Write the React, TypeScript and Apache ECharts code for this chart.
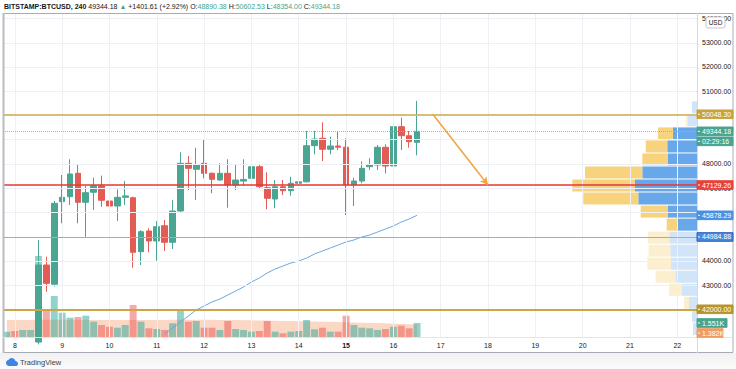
import React, { useEffect, useRef } from "react";
import * as echarts from "echarts";

const FONT = '"Liberation Sans Narrow", "Liberation Sans", Arial, sans-serif';
const UP = "#4ba593";
const DOWN = "#e35c54";

// time axis
const dayLabels = ["8", "9", "10", "11", "12", "13", "14", "15", "16", "17", "18", "19", "20", "21", "22"];
const slotHours = ["00:00", "04:00", "08:00", "12:00", "16:00", "20:00"];
const firstSlot = -1; // 7th 20:00
const lastSlot = 86;

// price ticks (grid) and the labels left visible beside the price tags
const priceTicks = [42000, 43000, 44000, 46000, 47000, 48000, 49000, 50000, 51000, 52000, 53000, 54000];
const priceLabels = [43000, 44000, 47000, 48000, 51000, 52000, 53000, 54000];

// 4h candles, starting at slot -1 (7th 20:00)
const opens = [40300, 40450, 40350, 40500,
  40650, 43828, 43032, 46441, 46647, 47613, 46416, 46829, 47101, 46469, 46263, 46622,
  46606, 44377, 45231, 44819, 45450, 44765, 46057, 48025, 47778, 48025, 47613, 47336,
  47613, 47130, 47290, 47406, 47885, 47018, 46552, 47060, 46895, 47200, 47260, 48752,
  49057, 48603, 48739, 48690, 47130, 47295, 47885, 47955, 48686, 47914, 49536, 49164, 48890.38];
const closes = [40450, 40350, 40500, 40650,
  43828, 43073, 46375, 46622, 47584, 46416, 46812, 47101, 46498, 46263, 46622, 46680,
  44352, 45203, 44819, 45409, 44765, 46057, 48025, 47819, 47955, 47613, 47365, 47613,
  47130, 47336, 47360, 47885, 47060, 46581, 47060, 46895, 47200, 47260, 48752, 49028,
  48603, 48739, 48690, 47130, 47295, 47819, 47955, 48686, 47914, 49536, 49164, 48917, 49344.18];
const lows = [40200, 40250, 40300, 40400,
  40550, 42726, 42933, 45549, 46304, 45549, 44996, 46098, 46234, 45863, 45644, 46304,
  43717, 43828, 44352, 44006, 44406, 44489, 45990, 46923, 46511, 47406, 46787, 47300,
  46193, 46923, 47100, 47300, 47000, 46127, 46168, 46717, 46690, 47060, 47240, 48397,
  48120, 48397, 48574, 45892, 46263, 47200, 47749, 47750, 47613, 47060, 48574, 48669, 48354.0];
const highs = [40520, 40500, 40600, 40700,
  44860, 44171, 46470, 47543, 48190, 47997, 47101, 47431, 47514, 46965, 46952, 47300,
  46650, 45270, 45343, 45644, 45685, 46511, 48479, 48327, 48669, 48987, 47650, 48025,
  48190, 47997, 48190, 48190, 47984, 47654, 47336, 47336, 47472, 47749, 49358, 49358,
  49717, 49123, 49329, 49057, 47431, 48100, 48232, 48780, 48810, 49600, 49907, 49358, 50602.53];
const volumes = [590, 665, 775, 775,
  8975, 2990, 4540, 2690, 2140, 2216, 2360, 1695, 1330, 1140, 1030, 1330,
  3545, 1695, 960, 886, 775, 1515, 2990, 1695, 1770, 1030, 1030, 775,
  1770, 886, 775, 590, 665, 1770, 590, 410, 590, 665, 1884, 850,
  1030, 590, 590, 2360, 1330, 1030, 960, 775, 886, 1140, 1255, 960, 1551];
const volumeMA = [1880, 1880, 1885, 1890, 1900, 1905, 1910, 1910, 1905, 1900,
  1895, 1890, 1885, 1880, 1875, 1870, 1870, 1870, 1875, 1880,
  1890, 1900, 1905, 1910, 1910, 1905, 1900, 1890, 1880, 1870,
  1860, 1845, 1830, 1815, 1800, 1785, 1770, 1755, 1740, 1720,
  1700, 1680, 1660, 1640, 1615, 1590, 1565, 1540, 1510, 1480,
  1450, 1415, 1382];
const priceMA: (number | string)[] = ["-", "-", "-", "-",
  "-", "-", "-", "-", "-", "-", "-", "-", "-", "-", "-", "-", "-", "-", "-", "-",
  40981, 41228, 41476, 41723, 41971, 42136, 42301, 42425, 42590, 42755, 42920, 43127,
  43292, 43498, 43663, 43787, 43911, 43993, 44117, 44282, 44406, 44530, 44654, 44777,
  44860, 44984, 45067, 45190, 45314, 45438, 45603, 45727, 45878.29];

// levels
const resistance = 50048.3;
const poc = 47129.26;
const support = 44984.88;
const baseLevel = 42000;
const lastPrice = 49344.18;
const maLast = 45878.29;
const lastVolume = 1551;
const lastVolumeMA = 1382;

// visible-range volume profile
const profileTop = [50602.5, 50064.8, 49527.1, 48989.4, 48451.7, 47914.0, 47376.3, 46838.6, 46300.9,
  45763.2, 45225.5, 44687.8, 44150.1, 43612.4, 43074.7, 42537.0, 41999.3, 41461.6];
const profileBottom = [50064.8, 49527.1, 48989.4, 48451.7, 47914.0, 47376.3, 46838.6, 46300.9, 45763.2,
  45225.5, 44687.8, 44150.1, 43612.4, 43074.7, 42537.0, 41999.3, 41461.6, 40923.9];
const profileUp = [500, 900, 2400, 2970, 2900, 5470, 6200, 5870, 2900, 1900, 2770, 2670, 2600, 2170, 1500, 800, 500, 400];
const profileDown = [0, 200, 1500, 2160, 2570, 5730, 6270, 5500, 2730, 1130, 2130, 2170, 2370, 1970, 1300, 500, 0, 0];
const profileValueArea = [0, 0, 1, 1, 1, 1, 1, 1, 1, 1, 0, 0, 0, 0, 0, 0, 0, 0];

const cloudPath = "M6 16 C2.7 16 0 13.3 0 10 C0 7.1 2.1 4.6 4.9 4.1 C6.1 1.7 8.6 0 11.5 0 C15.2 0 18.3 2.7 18.9 6.2 C21.8 6.6 24 9.1 24 12 C24 14.2 22.2 16 20 16 Z";
let registered = false;

export default function App() {
  const ref = useRef<HTMLDivElement>(null);
  useEffect(() => {
    if (!registered) {
      echarts.graphic.registerShape("tvlogo", echarts.graphic.extendPath(cloudPath, {}) as any);
      registered = true;
    }
    const chart = echarts.init(ref.current!, null, { renderer: "svg", width: 736, height: 369 });

    const categories: string[] = [];
    for (let s = firstSlot; s <= lastSlot; s++) {
      const d = Math.floor(s / 6);
      const h = ((s % 6) + 6) % 6;
      const day = d >= 0 ? dayLabels[d] : "7";
      categories.push(`${day} ${slotHours[h]}`);
    }
    const candleData = opens.map((o, i) => [o, closes[i], lows[i], highs[i]]);
    const volData = volumes.map((v, i) => ({
      value: v,
      itemStyle: { color: closes[i] >= opens[i] ? "rgba(38,166,154,0.5)" : "rgba(239,83,80,0.5)" },
    }));
    const profileData = profileTop.map((t, i) => [t, profileBottom[i], profileUp[i], profileDown[i], profileValueArea[i]]);

    const option: any = {
      animation: false,
      grid: { left: 3, right: 39, top: 13, bottom: 32, containLabel: false },
      xAxis: [
        {
          type: "category", data: categories, boundaryGap: true,
          axisLine: { show: false }, axisTick: { show: false }, splitLine: { show: false },
          axisLabel: {
            interval: (_i: number, v: string) => v.endsWith(" 00:00"),
            formatter: (v: string) => { const d = v.split(" ")[0]; return d === "15" ? `{b|${d}}` : d; },
            color: "#131722", fontSize: 7, margin: 5, fontFamily: FONT,
            rich: { b: { fontWeight: "bold", fontSize: 7, fontFamily: FONT, color: "#131722" } },
          },
        },
        { type: "value", position: "top", min: 0, max: 69400, inverse: true, show: false },
      ],
      yAxis: [
        {
          type: "value", position: "right", min: 40857, max: 54228,
          axisLine: { show: false }, axisTick: { show: false }, splitLine: { show: false },
          axisLabel: {
            customValues: priceLabels, formatter: (v: number) => v.toFixed(2),
            color: "#131722", fontSize: 7, margin: 5, fontFamily: FONT,
          },
        },
        { type: "value", min: 0, max: 35900, show: false },
      ],
      series: [
        {
          type: "line", name: "grid", data: [], z: 0, silent: true,
          markLine: {
            silent: true, symbol: ["none", "none"], label: { show: false },
            lineStyle: { color: "#eef0f5", width: 1, type: "solid" },
            data: [
              ...priceTicks.map((p) => ({ yAxis: p })),
              ...dayLabels.map((d) => ({ xAxis: `${d} 00:00` })),
            ],
          },
        },
        {
          type: "bar", name: "volume", xAxisIndex: 0, yAxisIndex: 1, data: volData, barWidth: "88%", z: 1, silent: true,
        },
        {
          type: "line", name: "volumeMA", xAxisIndex: 0, yAxisIndex: 1, data: volumeMA, z: 1, symbol: "none",
          lineStyle: { width: 0 }, areaStyle: { color: "rgba(244,140,90,0.5)", origin: "start" }, silent: true,
        },
        {
          type: "candlestick", name: "BTCUSD", data: candleData, z: 2, clip: true, barWidth: "78%",
          itemStyle: { color: UP, color0: DOWN, borderColor: UP, borderColor0: DOWN, borderWidth: 1 },
          markLine: {
            silent: true, symbol: ["none", "none"], label: { show: false },
            data: [{ yAxis: lastPrice, lineStyle: { color: "#aab0ba", width: 1, type: "dotted" } }],
          },
        },
        {
          type: "line", name: "MA", data: priceMA, z: 3, symbol: "none", smooth: false,
          lineStyle: { color: "#6ea6e0", width: 1 }, silent: true,
        },
        {
          type: "custom", name: "profile", xAxisIndex: 1, yAxisIndex: 0, z: 3, silent: true,
          encode: { x: 2, y: 0 },
          data: profileData,
          renderItem: (_p: any, api: any) => {
            const top = api.value(0), bot = api.value(1), up = api.value(2), dn = api.value(3), va = api.value(4);
            const pRight = api.coord([0, top]);
            const pUp = api.coord([up, bot]);
            const pAll = api.coord([up + dn, bot]);
            const y0 = pRight[1] + 0.5;
            const h = pUp[1] - pRight[1] - 1;
            return {
              type: "group",
              children: [
                { type: "rect", shape: { x: pUp[0], y: y0, width: pRight[0] - pUp[0], height: h },
                  style: { fill: va ? "#67a7ea" : "#d2e5f8" } },
                { type: "rect", shape: { x: pAll[0], y: y0, width: pUp[0] - pAll[0], height: h },
                  style: { fill: va ? "#f6d37c" : "#fcefcf" } },
              ],
            };
          },
        },
        {
          type: "line", name: "levels", data: [], z: 4, silent: true,
          markLine: {
            silent: true, symbol: ["none", "none"], label: { show: false },
            data: [
              { yAxis: resistance, lineStyle: { color: "#d0aa4c", width: 1.5, type: "solid" } },
              { yAxis: poc, lineStyle: { color: "#e53935", width: 1.5, type: "solid" } },
              { yAxis: baseLevel, lineStyle: { color: "#c9a646", width: 2, type: "solid" } },
              [
                { xAxis: "16 20:00", yAxis: resistance, symbol: "none" },
                { xAxis: "18 00:00", yAxis: poc, symbol: "arrow", symbolSize: [6, 8],
                  lineStyle: { color: "#f3a23e", width: 1.5, type: "solid" } },
              ],
            ],
          },
        },
      ],
    };
    chart.setOption(option);

    const yP = (v: number) => chart.convertToPixel({ yAxisIndex: 0 }, v) as number;
    const yV = (v: number) => chart.convertToPixel({ yAxisIndex: 1 }, v) as number;
    const tag = (y: number, text: string, bg: string, width = 36, stroke?: string) => ({
      type: "group", z: 100,
      children: [
        { type: "rect", z: 100, shape: { x: 697, y: y - 4.3, width, height: 8.6 },
          style: { fill: bg, stroke: stroke || bg, lineWidth: 1 } },
        { type: "line", z: 101, shape: { x1: 698, y1: y, x2: 700, y2: y }, style: { stroke: "#ffffff", lineWidth: 1 } },
        { type: "text", z: 101, x: 702, y, style: { text, fill: "#ffffff", fontSize: 7, fontFamily: FONT, align: "left", verticalAlign: "middle" } },
      ],
    });
    const yLast = yP(lastPrice);
    const yVol = yV(lastVolume);
    const yVolMA = Math.max(yV(lastVolumeMA), yVol + 10);
    const ySupport = Math.round(yP(support)) + 0.5;

    const header = "{b|BITSTAMP:BTCUSD, 240} {n|49344.18} {g|▲} {n|+1401.61 (+2.92%)} {n|O:}{g|" + opens[opens.length - 1].toFixed(2) +
      "} {n|H:}{g|" + highs[highs.length - 1].toFixed(2) + "} {n|L:}{g|" + lows[lows.length - 1].toFixed(2) +
      "} {n|C:}{g|" + closes[closes.length - 1].toFixed(2) + "}";

    chart.setOption({
      graphic: [
        { type: "rect", z: 50, shape: { x: 0, y: 353, width: 736, height: 16 },
          style: { fill: new echarts.graphic.LinearGradient(0, 0, 0, 1, [{ offset: 0, color: "#f1f1f1" }, { offset: 1, color: "#fbfbfb" }]) } },
        { type: "rect", z: 50, shape: { x: 3.5, y: 13.5, width: 729.5, height: 339 }, style: { fill: "none", stroke: "#a9acb4", lineWidth: 1 } },
        { type: "line", z: 50, shape: { x1: 3.5, y1: 13, x2: 3.5, y2: 353 }, style: { stroke: "#b8bbc2", lineWidth: 2 } },
        { type: "line", z: 50, shape: { x1: 697.5, y1: 13, x2: 697.5, y2: 353 }, style: { stroke: "#d6d9e0", lineWidth: 1 } },
        { type: "line", z: 50, shape: { x1: 3, y1: 337.5, x2: 733, y2: 337.5 }, style: { stroke: "#e3e5ea", lineWidth: 1 } },
        { type: "line", z: 90, shape: { x1: 4, y1: ySupport, x2: 697, y2: ySupport }, style: { stroke: "#7fb2f2", lineWidth: 1 } },
        { type: "text", z: 60, x: 4, y: 6.5, style: { text: header, fontSize: 7, fontFamily: FONT, verticalAlign: "middle",
            rich: {
              b: { fontSize: 7, fontFamily: FONT, fill: "#131722", fontWeight: "bold" },
              n: { fontSize: 7, fontFamily: FONT, fill: "#131722" },
              g: { fontSize: 7, fontFamily: FONT, fill: "#3fa592" },
            } } },
        tag(yP(resistance), resistance.toFixed(2), "#c9a23c"),
        tag(yLast, lastPrice.toFixed(2), "#49a48f"),
        tag(yLast + 10, "02:29:16", "#49a48f"),
        tag(yP(poc), poc.toFixed(2), "#e8433b"),
        tag(yP(maLast), maLast.toFixed(2), "#4c8fe0"),
        tag(yP(support), support.toFixed(2), "#4a88da", 36, "#2a5fbf"),
        tag(yP(baseLevel), baseLevel.toFixed(2), "#b8952c"),
        tag(yVol, (lastVolume / 1000).toFixed(3) + "K", "#49a48f", 30),
        tag(yVolMA, (lastVolumeMA / 1000).toFixed(3) + "K", "#f09c62", 26),
        { type: "group", z: 100, children: [
          { type: "rect", z: 100, shape: { x: 706, y: 17, width: 19, height: 11, r: 2 }, style: { fill: "#ffffff", stroke: "#c6c8ce", lineWidth: 1 } },
          { type: "text", z: 101, x: 715.5, y: 22.5, style: { text: "USD", fill: "#131722", fontSize: 6.5, fontFamily: FONT, align: "center", verticalAlign: "middle" } },
        ] },
        { type: "tvlogo", z: 60, x: 6, y: 358, scaleX: 0.5, scaleY: 0.5, style: { fill: "#3d86e6" } },
        { type: "text", z: 60, x: 20, y: 362.5, style: { text: "TradingView", fill: "#3a3e48", fontSize: 7.5, fontFamily: FONT, verticalAlign: "middle" } },
      ],
    });

    return () => chart.dispose();
  }, []);
  return <div ref={ref} style={{ position: "fixed", left: 0, top: 0, width: 736, height: 369, background: "#ffffff" }} />;
}
